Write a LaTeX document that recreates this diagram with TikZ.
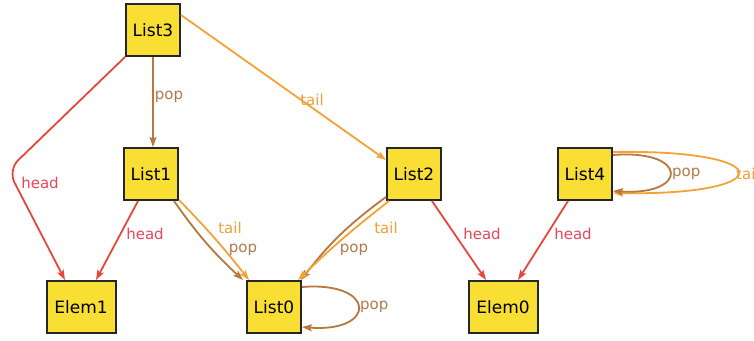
\documentclass[tikz,border=0pt]{standalone}
\usepackage{fontspec}
\setmainfont{DejaVu Sans}
\usetikzlibrary{arrows.meta}
\definecolor{nodefill}{HTML}{F9DE33}
\definecolor{headc}{HTML}{E6473A}
\definecolor{headl}{HTML}{E8455A}
\definecolor{popc}{HTML}{B8773F}
\definecolor{popl}{HTML}{B27A4C}
\definecolor{tailc}{HTML}{F4A236}
\definecolor{taill}{HTML}{F2A03A}
\tikzset{
  obj/.style={draw=black!85, line width=2pt, fill=nodefill, minimum height=52pt, inner sep=0pt, font=\fontsize{17}{20}\selectfont},
  listbox/.style={obj, minimum width=54pt},
  elembox/.style={obj, minimum width=69pt},
  conn/.style={line width=1.8pt, -{Stealth[length=10pt,width=7pt,inset=2pt]}},
  headedge/.style={conn, headc},
  popedge/.style={conn, popc},
  tailedge/.style={conn, tailc},
  lbl/.style={font=\fontsize{15}{18}\selectfont, inner sep=0pt},
  headlbl/.style={lbl, text=headl},
  poplbl/.style={lbl, text=popl},
  taillbl/.style={lbl, text=taill}
}
\begin{document}
\begin{tikzpicture}[x=1pt,y=-1pt]
\useasboundingbox (0,0) rectangle (754,340);
\fill[white] (0,0) rectangle (754,340);

% nodes
\node[listbox] (List3) at (153,30) {List3};
\node[listbox] (List1) at (151,174) {List1};
\node[listbox] (List2) at (414,174) {List2};
\node[listbox] (List4) at (585,174) {List4};
\node[elembox] (Elem1) at (81,307) {Elem1};
\node[listbox] (List0) at (274,307) {List0};
\node[elembox] (Elem0) at (503,307) {Elem0};

% List3 edges
\draw[headedge, rounded corners=14pt] (List3.south west) -- (8,170) -- ([xshift=-16pt]Elem1.north);
\node[headlbl] (l1) at (40,183) {head};
\draw[popedge] (List3.south) -- (List3.south |- List1.north);
\node[poplbl] (l2) at (169,97) {pop};
\draw[tailedge] ([yshift=-12pt]List3.north east) -- ([yshift=14pt]List2.west);
\node[taillbl] (l3) at (312,100) {tail};

% List1 edges
\draw[headedge] ([xshift=-13pt]List1.south) -- ([xshift=15pt]Elem1.north);
\node[headlbl] (l4) at (145,234) {head};
\draw[popedge] ([xshift=-5pt]List1.south east) to[bend right=6] ([xshift=-3pt]List0.north west);
\draw[tailedge] ([yshift=1pt]List1.south east) to[bend left=3] ([xshift=3pt]List0.north west);
\node[taillbl] (l5) at (230,228) {tail};
\node[poplbl] (l6) at (243,250) {pop};

% List2 edges
\draw[popedge] ([yshift=4pt]List2.south west) to[bend right=8] ([xshift=-1pt]List0.north east);
\draw[tailedge] ([xshift=3pt]List2.south west) to[bend right=3] ([xshift=-4pt]List0.north east);
\node[taillbl] (l7) at (386,228) {tail};
\node[poplbl] (l8) at (354,250) {pop};
\draw[headedge] ([xshift=18pt]List2.south) -- ([xshift=-17pt]Elem0.north);
\node[headlbl] (l9) at (482,234) {head};

% List4 edges
\draw[headedge] ([xshift=-17pt]List4.south) -- ([xshift=15pt]Elem0.north);
\node[headlbl] (l10) at (573,234) {head};
\draw[tailedge] ([yshift=-5pt]List4.north east) .. controls ([xshift=167pt,yshift=-2pt]List4.north east) and ([xshift=167pt,yshift=5pt]List4.south east) .. ([yshift=8pt]List4.south east);
\draw[popedge] ([yshift=-8pt]List4.north east) .. controls ([xshift=76pt,yshift=-2pt]List4.north east) and ([xshift=76pt,yshift=5pt]List4.south east) .. ([yshift=10pt]List4.south east);
\node[poplbl, anchor=west] (l11) at (672,174) {pop};
\node[taillbl, anchor=west] (l12) at (736,174) {tail};

% List0 self loop
\draw[popedge] ([yshift=-7pt]List0.north east) .. controls ([xshift=75pt,yshift=-1pt]List0.north east) and ([xshift=75pt,yshift=1pt]List0.south east) .. ([yshift=7pt]List0.south east);
\node[poplbl, anchor=west] (l13) at (360,307) {pop};
\end{tikzpicture}
\end{document}
